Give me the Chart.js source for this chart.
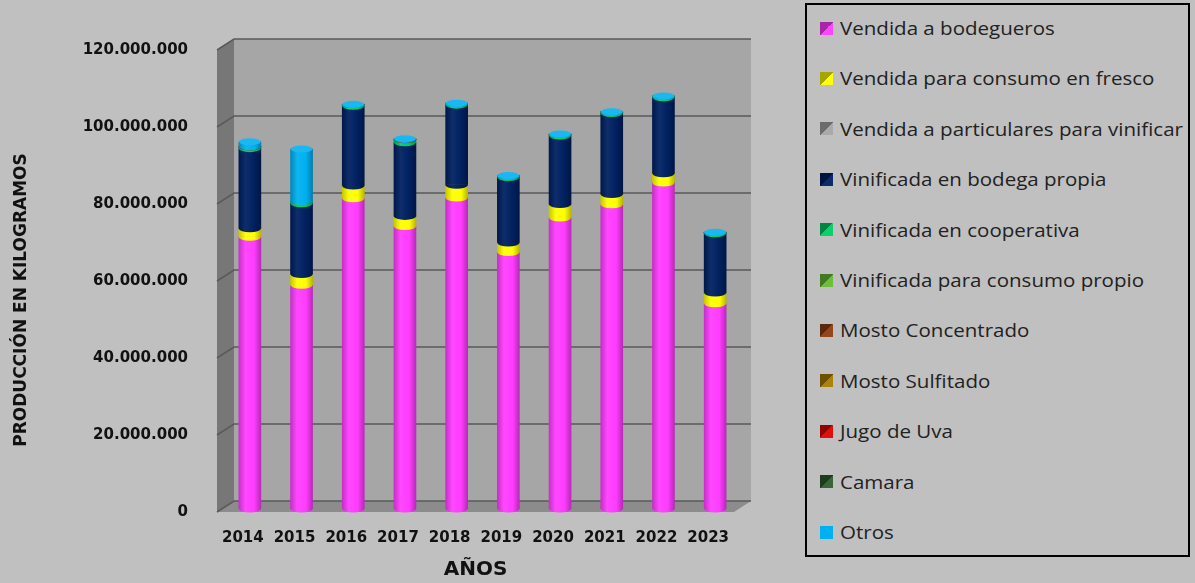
<!DOCTYPE html>
<html>
<head>
<meta charset="utf-8">
<script src="https://cdn.jsdelivr.net/npm/chart.js@4/dist/chart.umd.min.js"></script>
<style>
  body { margin: 0; background: #c0c0c0; }
  #wrap { position: relative; width: 1195px; height: 583px; }
  #chart { position: absolute; left: 0; top: 0; }
  #legend {
    position: absolute; left: 805px; top: 3px; width: 381px; height: 550px;
    border: 2px solid #000; background: #c0c0c0;
    font-family: "Open Sans", sans-serif; font-size: 18px; color: #222;
  }
  .item { position: absolute; left: 13px; height: 24px; display: flex; align-items: center; white-space: nowrap; }
  .key { width: 13px; height: 13px; margin-right: 7px; flex: none; }
  .txt { display: inline-block; transform: scaleX(1.14); transform-origin: left center; }
</style>
</head>
<body>
<div id="wrap">
  <canvas id="chart" width="1195" height="583"></canvas>
  <div id="legend"></div>
</div>
<script>
const years = ['2014', '2015', '2016', '2017', '2018', '2019', '2020', '2021', '2022', '2023'];

// kilogramos por destino
const bodegueros     = [70600000, 58100000, 80600000, 73400000, 80800000, 66600000, 75600000, 79000000, 84700000, 53300000];
const fresco         = [2200000, 2800000, 3300000, 2600000, 3300000, 2500000, 3500000, 2700000, 2400000, 2800000];
const particulares   = [0, 0, 0, 0, 0, 0, 0, 0, 0, 0];
const bodegaPropia   = [20800000, 18400000, 20700000, 19100000, 20800000, 17000000, 17800000, 21000000, 19700000, 15400000];
const cooperativa    = [400000, 600000, 400000, 800000, 400000, 400000, 400000, 400000, 400000, 300000];
const consumoPropio  = [0, 0, 0, 0, 0, 0, 0, 0, 0, 0];
const mostoConc      = [100000, 0, 0, 100000, 0, 0, 0, 0, 0, 0];
const mostoSulf      = [0, 0, 0, 0, 0, 0, 0, 0, 0, 0];
const jugoUva        = [0, 0, 0, 0, 0, 0, 0, 0, 0, 0];
const camara         = [0, 0, 0, 0, 0, 0, 0, 0, 0, 0];
const otros          = [1300000, 13600000, 100000, 200000, 100000, 100000, 100000, 100000, 100000, 100000];

const yTicks = [0, 20000000, 40000000, 60000000, 80000000, 100000000, 120000000];

const series = [
  { label: 'Vendida a bodegueros', data: bodegueros, color: '#ff3cff' },
  { label: 'Vendida para consumo en fresco', data: fresco, color: '#ffff00' },
  { label: 'Vendida a particulares para vinificar', data: particulares, color: '#a6a6a6' },
  { label: 'Vinificada en bodega propia', data: bodegaPropia, color: '#002060' },
  { label: 'Vinificada en cooperativa', data: cooperativa, color: '#00cc66' },
  { label: 'Vinificada para consumo propio', data: consumoPropio, color: '#66bb33' },
  { label: 'Mosto Concentrado', data: mostoConc, color: '#8b3e12' },
  { label: 'Mosto Sulfitado', data: mostoSulf, color: '#a67c00' },
  { label: 'Jugo de Uva', data: jugoUva, color: '#e00000' },
  { label: 'Camara', data: camara, color: '#2e5e2e' },
  { label: 'Otros', data: otros, color: '#00b0f0' }
];

const BAR_W = 22;
const CAP_RY = 3.5;
// offsets of the front edge and back wall from the plane the bars stand in
const FRONT = { dx: -7, dy: 3 };
const BACK = { dx: 10, dy: -8 };

function shade(hex, f) {
  const n = parseInt(hex.slice(1), 16);
  const t = f < 0 ? 0 : 255, p = Math.abs(f);
  const c = [n >> 16, (n >> 8) & 255, n & 255].map(v => Math.round((t - v) * p + v));
  return 'rgb(' + c.join(',') + ')';
}

function cylinderFill(chart, color, index) {
  if (!chart.chartArea || !chart.scales.x) return color;
  const cx = chart.scales.x.getPixelForValue(index);
  const g = chart.ctx.createLinearGradient(cx - BAR_W / 2, 0, cx + BAR_W / 2, 0);
  g.addColorStop(0, shade(color, -0.22));
  g.addColorStop(0.3, shade(color, 0.06));
  g.addColorStop(0.7, color);
  g.addColorStop(1, shade(color, -0.28));
  return g;
}

function fmt(v) {
  return String(v).replace(/\B(?=(\d{3})+(?!\d))/g, '.');
}

// back wall, side wall, floor and gridlines
const walls = {
  id: 'walls',
  beforeDatasetsDraw(chart) {
    const ctx = chart.ctx, a = chart.chartArea, y = chart.scales.y;
    const top = y.getPixelForValue(yTicks[yTicks.length - 1]);
    const bot = y.getPixelForValue(0);
    ctx.save();
    ctx.fillStyle = '#a6a6a6';
    ctx.fillRect(a.left + BACK.dx, top + BACK.dy, a.right - a.left, bot - top);
    // left wall
    ctx.fillStyle = '#777777';
    ctx.beginPath();
    ctx.moveTo(a.left + FRONT.dx, top + FRONT.dy);
    ctx.lineTo(a.left + BACK.dx, top + BACK.dy);
    ctx.lineTo(a.left + BACK.dx, bot + BACK.dy);
    ctx.lineTo(a.left + FRONT.dx, bot + FRONT.dy);
    ctx.closePath();
    ctx.fill();
    // floor
    ctx.fillStyle = '#8c8c8c';
    ctx.beginPath();
    ctx.moveTo(a.left + FRONT.dx, bot + FRONT.dy);
    ctx.lineTo(a.left + BACK.dx, bot + BACK.dy);
    ctx.lineTo(a.right + BACK.dx, bot + BACK.dy);
    ctx.lineTo(a.right + FRONT.dx, bot + FRONT.dy);
    ctx.closePath();
    ctx.fill();
    ctx.strokeStyle = '#5a5a5a';
    ctx.lineWidth = 1.5;
    yTicks.forEach(v => {
      const py = y.getPixelForValue(v);
      ctx.beginPath();
      ctx.moveTo(a.left + FRONT.dx, py + FRONT.dy);
      ctx.lineTo(a.left + BACK.dx, py + BACK.dy);
      ctx.lineTo(a.right + BACK.dx, py + BACK.dy);
      ctx.stroke();
    });
    ctx.restore();
  }
};

// rounded bottoms of each segment and the cap on the top one
const caps = {
  id: 'caps',
  afterDatasetsDraw(chart) {
    const ctx = chart.ctx;
    const r = BAR_W / 2;
    ctx.save();
    years.forEach((yr, i) => {
      let last = -1;
      series.forEach((s, d) => { if (s.data[i] > 0) last = d; });
      series.forEach((s, d) => {
        if (!(s.data[i] > 0)) return;
        const el = chart.getDatasetMeta(d).data[i];
        ctx.fillStyle = cylinderFill(chart, s.color, i);
        // start a pixel above the joint so no seam shows between segments
        ctx.beginPath();
        ctx.moveTo(el.x + r, el.base - 1);
        ctx.ellipse(el.x, el.base, r, CAP_RY, 0, 0, Math.PI);
        ctx.lineTo(el.x - r, el.base - 1);
        ctx.closePath();
        ctx.fill();
        if (d === last) {
          ctx.fillStyle = shade(s.color, 0.1);
          ctx.beginPath();
          ctx.ellipse(el.x, el.y, r, CAP_RY, 0, 0, Math.PI * 2);
          ctx.fill();
        }
      });
    });
    ctx.restore();
  }
};

const titles = {
  id: 'titles',
  afterDraw(chart) {
    const ctx = chart.ctx, a = chart.chartArea;
    ctx.save();
    ctx.fillStyle = '#111';
    ctx.textAlign = 'center';
    ctx.textBaseline = 'middle';
    ctx.font = 'bold 20px "DejaVu Sans"';
    ctx.fillText('AÑOS', (a.left + a.right) / 2 + FRONT.dx, 570);
    ctx.translate(22, (a.top + a.bottom) / 2 + 22);
    ctx.rotate(-Math.PI / 2);
    ctx.font = 'bold 17px "DejaVu Sans"';
    ctx.fillText('PRODUCCIÓN EN KILOGRAMOS', 0, 0);
    ctx.restore();
  }
};

function chart() {
  const ctx = document.getElementById('chart').getContext('2d');
  const tickFont = { family: 'DejaVu Sans', size: 15, weight: 'bold' };
  new Chart(ctx, {
    type: 'bar',
    data: {
      labels: years,
      datasets: series.map(s => ({
        label: s.label,
        data: s.data,
        backgroundColor: c => cylinderFill(c.chart, s.color, c.dataIndex),
        borderWidth: 0,
        barThickness: BAR_W
      }))
    },
    options: {
      responsive: false,
      animation: false,
      layout: { padding: { top: 47, right: 454, bottom: 0, left: 0 } },
      plugins: { legend: { display: false }, tooltip: { enabled: false } },
      scales: {
        x: {
          stacked: true,
          grid: { display: false },
          border: { display: false },
          ticks: { font: tickFont, color: '#111', padding: 12, labelOffset: FRONT.dx },
          afterFit: s => { s.height = 74; }
        },
        y: {
          stacked: true,
          min: 0,
          max: 120000000,
          grid: { display: false },
          border: { display: false },
          afterBuildTicks: s => { s.ticks = yTicks.map(v => ({ value: v })); },
          ticks: { font: tickFont, color: '#111', padding: 28, labelOffset: FRONT.dy, callback: v => fmt(v) },
          afterFit: s => { s.width = 224; }
        }
      }
    },
    plugins: [walls, caps, titles]
  });
}

function legend() {
  const box = document.getElementById('legend');
  series.forEach((s, i) => {
    const item = document.createElement('div');
    item.className = 'item';
    item.style.top = (11 + 50.4 * i) + 'px';
    const key = document.createElement('span');
    key.className = 'key';
    key.style.background = s.label === 'Otros' ? s.color :
      'linear-gradient(to bottom right, ' + shade(s.color, -0.35) + ' 50%, ' + shade(s.color, 0.05) + ' 50%)';
    const txt = document.createElement('span');
    txt.className = 'txt';
    txt.textContent = s.label;
    item.appendChild(key);
    item.appendChild(txt);
    box.appendChild(item);
  });
}

chart();
legend();
</script>
</body>
</html>
